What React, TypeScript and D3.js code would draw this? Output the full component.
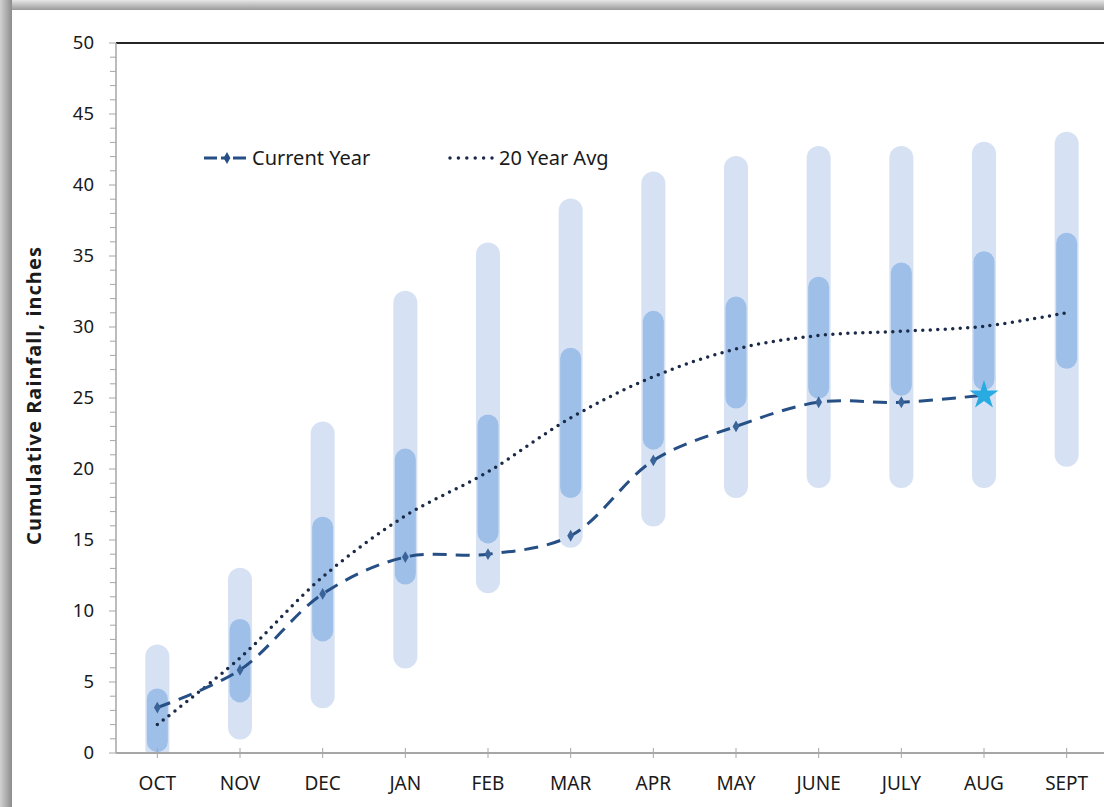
import * as d3 from "d3";

const months = ["OCT", "NOV", "DEC", "JAN", "FEB", "MAR", "APR", "MAY", "JUNE", "JULY", "AUG", "SEPT"];

// full historical range (light bars)
const rangeLow = [0.3, 1.8, 4.0, 6.8, 12.1, 15.3, 16.8, 18.8, 19.5, 19.5, 19.5, 21.0];
const rangeHigh = [6.8, 12.2, 22.5, 31.7, 35.1, 38.2, 40.1, 41.2, 41.9, 41.9, 42.2, 42.9];

// inner range (dark bars)
const innerLow = [0.8, 4.3, 8.6, 12.6, 15.5, 18.7, 22.1, 25.0, 25.7, 25.9, 26.3, 27.8];
const innerHigh = [3.8, 8.7, 15.9, 20.7, 23.1, 27.8, 30.4, 31.4, 32.8, 33.8, 34.6, 35.9];

const currentYear = [3.2, 5.85, 11.2, 13.8, 14.0, 15.3, 20.6, 23.0, 24.7, 24.7, 25.2];
const avg20 = [2.0, 6.7, 12.4, 16.7, 19.8, 23.6, 26.5, 28.45, 29.4, 29.7, 30.05, 31.0];

const yTicks = [0, 5, 10, 15, 20, 25, 30, 35, 40, 45, 50];

const W = 1104;
const H = 807;
const margin = { top: 43, left: 116, right: -4, bottom: 54 };
const font = "'Noto Sans', 'Open Sans', sans-serif";

export default function App() {
  const innerW = W - margin.left - margin.right;
  const innerH = H - margin.top - margin.bottom;

  const x = d3.scaleBand().domain(months).range([0, innerW]);
  const y = d3.scaleLinear().domain([0, 50]).range([innerH, 0]);
  const cx = (i: number) => (x(months[i]) ?? 0) + x.bandwidth() / 2;

  const line = d3
    .line<number>()
    .x((_, i) => cx(i))
    .y((d) => y(d))
    .curve(d3.curveCatmullRom.alpha(0.5));

  const minorTicks = d3.range(0, 51, 1);
  const diamond = d3.symbol().type(d3.symbolDiamond).size(40)() ?? "";
  const star = d3.symbol().type(d3.symbolStar).size(260)() ?? "";
  const last = currentYear.length - 1;

  return (
    <svg
      width={W}
      height={H}
      style={{ position: "absolute", left: 0, top: 0, display: "block" }}
    >
      <defs>
        <linearGradient id="shadowTop" x1="0" y1="0" x2="0" y2="1">
          <stop offset="0" stopColor="#e6e6e6" />
          <stop offset="1" stopColor="#9a9a9a" />
        </linearGradient>
        <linearGradient id="shadowLeft" x1="0" y1="0" x2="1" y2="0">
          <stop offset="0" stopColor="#d2d2d2" />
          <stop offset="1" stopColor="#8c8c8c" />
        </linearGradient>
        <clipPath id="plotClip">
          <rect x={0} y={-20} width={innerW} height={innerH + 20} />
        </clipPath>
      </defs>

      <rect x={0} y={0} width={W} height={H} fill="#ffffff" />
      <rect x={0} y={0} width={W} height={10} fill="url(#shadowTop)" />
      <rect x={0} y={0} width={12} height={H} fill="url(#shadowLeft)" />

      <g transform={`translate(${margin.left},${margin.top})`}>
        {/* range bars */}
        <g clipPath="url(#plotClip)">
          {months.map((m, i) => (
            <line
              key={"r" + m}
              x1={cx(i)}
              x2={cx(i)}
              y1={y(rangeLow[i])}
              y2={y(rangeHigh[i])}
              stroke="#d6e2f4"
              strokeWidth={24}
              strokeLinecap="round"
            />
          ))}
          {months.map((m, i) => (
            <line
              key={"i" + m}
              x1={cx(i)}
              x2={cx(i)}
              y1={y(innerLow[i])}
              y2={y(innerHigh[i])}
              stroke="#9ebfe8"
              strokeWidth={21}
              strokeLinecap="round"
            />
          ))}
        </g>

        {/* top border */}
        <line x1={0} x2={innerW} y1={0} y2={0} stroke="#262626" strokeWidth={2} />

        {/* y axis */}
        <line x1={0} x2={0} y1={0} y2={innerH} stroke="#a6a6a6" strokeWidth={1.5} />
        {minorTicks.map((t) => (
          <line key={"m" + t} x1={t % 5 === 0 ? -7 : -6} x2={0} y1={y(t)} y2={y(t)} stroke="#a6a6a6" strokeWidth={1} />
        ))}
        {yTicks.map((t) => (
          <text
            key={"yt" + t}
            x={-22}
            y={y(t)}
            dy="0.35em"
            textAnchor="end"
            fontFamily={font}
            fontSize={18.5}
            fill="#1a1a1a"
          >
            {t}
          </text>
        ))}

        {/* x axis */}
        <line x1={0} x2={innerW} y1={innerH} y2={innerH} stroke="#a6a6a6" strokeWidth={2} />
        {months.map((m, i) => (
          <g key={"xt" + m}>
            <line x1={cx(i)} x2={cx(i)} y1={innerH - 5} y2={innerH + 5} stroke="#a6a6a6" strokeWidth={1} />
            <text x={cx(i)} y={innerH + 37} textAnchor="middle" fontFamily={font} fontSize={19} fill="#1a1a1a">
              {m}
            </text>
          </g>
        ))}

        {/* 20 year average */}
        <path
          d={line(avg20) ?? ""}
          fill="none"
          stroke="#1b2a47"
          strokeWidth={3.5}
          strokeDasharray="0 7.5"
          strokeLinecap="round"
        />

        {/* current year */}
        <path
          d={line(currentYear) ?? ""}
          fill="none"
          stroke="#264f85"
          strokeWidth={3}
          strokeDasharray="14 9"
        />
        {currentYear.slice(0, last).map((v, i) => (
          <path key={"d" + i} d={diamond} transform={`translate(${cx(i)},${y(v)})`} fill="#3a6399" />
        ))}
        <path d={star} transform={`translate(${cx(last)},${y(currentYear[last])})`} fill="#29abe2" />

        {/* legend */}
        <g transform="translate(88,115)">
          <line x1={0} x2={42} y1={0} y2={0} stroke="#264f85" strokeWidth={3} strokeDasharray="13 4 8 4 13" />
          <path d={diamond} transform="translate(23,0)" fill="#264f85" />
          <text x={48} y={0} dy="0.35em" fontFamily={font} fontSize={20} fill="#1a1a1a">
            Current Year
          </text>
          <line x1={246} x2={290} y1={0} y2={0} stroke="#1b2a47" strokeWidth={3.5} strokeDasharray="0 8.4" strokeLinecap="round" />
          <text x={295} y={0} dy="0.35em" fontFamily={font} fontSize={20} fill="#1a1a1a">
            20 Year Avg
          </text>
        </g>
      </g>

      <text
        transform={`translate(41,396) rotate(-90)`}
        textAnchor="middle"
        fontFamily={font}
        fontSize={20}
        fontWeight="bold"
        fill="#1a1a1a"
        textLength={298}
        lengthAdjust="spacing"
      >
        Cumulative Rainfall, inches
      </text>
    </svg>
  );
}
